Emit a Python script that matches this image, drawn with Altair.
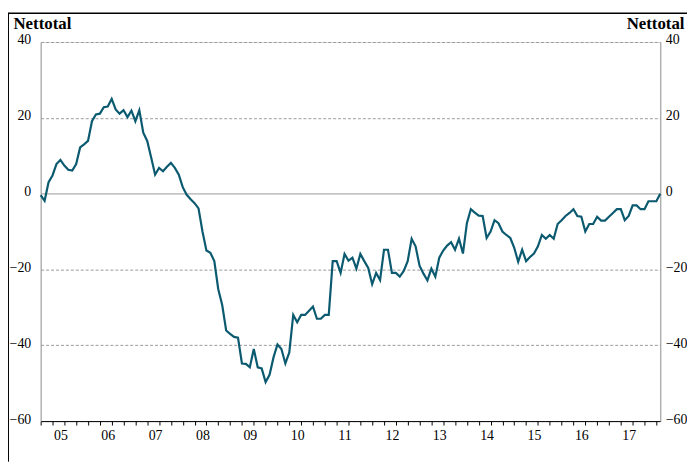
import altair as alt
import pandas as pd

# Monthly net balance, Jan 2005 onwards
values = [
    -0.4, -1.9, 3.0, 4.8, 7.8, 8.9, 7.4, 6.3, 6.1, 7.8, 12.2, 13.0,
    13.9, 19.1, 20.9, 21.1, 22.8, 23.0, 25.0, 22.2, 21.1, 22.0, 20.2, 21.9,
    19.1, 22.0, 16.1, 13.9, 9.5, 5.0, 6.8, 5.9, 7.1, 8.1, 6.8, 5.0,
    1.7, -0.3, -1.5, -2.5, -3.9, -10.0, -15.0, -15.6, -17.8, -25.2, -29.4, -36.1,
    -37.0, -37.8, -38.0, -44.8, -44.9, -45.8, -41.0, -45.8, -46.1, -49.7, -47.8, -43.2,
    -39.8, -41.0, -44.8, -41.9, -32.0, -33.9, -32.0, -32.0, -30.9, -29.8, -33.0, -33.0,
    -32.0, -32.0, -17.8, -17.8, -20.9, -15.9, -17.7, -16.9, -19.8, -15.9, -17.8, -19.6,
    -23.9, -20.9, -22.8, -14.8, -14.8, -20.9, -20.9, -21.9, -20.4, -17.8, -11.9, -13.9,
    -19.0, -21.1, -22.9, -19.8, -21.9, -16.9, -15.0, -13.7, -12.8, -14.8, -11.9, -15.8,
    -7.8, -4.1, -5.0, -5.8, -5.9, -11.7, -10.0, -7.0, -7.8, -10.0, -10.9, -11.7,
    -14.3, -18.0, -14.8, -17.8, -16.7, -15.8, -13.9, -10.9, -11.9, -10.9, -11.9, -8.0,
    -7.0, -5.9, -5.1, -4.1, -5.9, -6.1, -10.0, -8.0, -8.0, -6.1, -7.1, -7.1,
    -6.1, -5.1, -4.1, -4.1, -7.0, -5.9, -3.1, -3.1, -4.1, -4.1, -2.0, -2.0,
    -2.0, 0.0,
]
year_labels = ["05", "06", "07", "08", "09", "10", "11", "12", "13", "14", "15", "16", "17"]
y_ticks = [-60, -40, -20, 0, 20, 40]
axis_title = "Nettotal"

df = pd.DataFrame({"m": list(range(len(values))), "v": values})

W, H = 626, 383
PL, PT, PR, PB = 33, 32, 27, 41
FONT = "Liberation Serif"

quarter_ticks = list(range(0, len(values), 3))
label_pos = [5 + 12 * k for k in range(len(year_labels))]
x_vals = sorted(set(quarter_ticks) | set(label_pos))
labels_js = "[" + ",".join("'%s'" % s for s in year_labels) + "]"
is_label = "(datum.value - 5) % 12 === 0"

x_enc = alt.X(
    "m:Q",
    scale=alt.Scale(domain=[0, len(values) - 1], nice=False, zero=False),
    axis=alt.Axis(
        values=x_vals,
        labelExpr=f"{is_label} ? {labels_js}[(datum.value - 5) / 12] : ''",
        labelOverlap=False,
        labelBound=False,
        labelFont=FONT,
        labelFontSize=14,
        labelColor="black",
        labelPadding=4,
        tickSize=4,
        tickColor="black",
        tickOpacity={"condition": {"test": is_label, "value": 0}, "value": 1},
        domainColor="black",
        grid=False,
        title=None,
    ),
)

y_scale = alt.Scale(domain=[-60, 40], nice=False, zero=False)

grid_dash = {"condition": {"test": "datum.value === 0", "value": []}, "value": [3, 2]}

line = alt.Chart(df).mark_line(color="#0B5A70", strokeWidth=2.2).encode(
    x=x_enc,
    y=alt.Y(
        "v:Q",
        scale=y_scale,
        axis=alt.Axis(
            orient="left",
            values=y_ticks,
            grid=True,
            gridColor="#9a9a9a",
            gridDash=grid_dash,
            gridWidth=1,
            ticks=False,
            domainColor="#9a9a9a",
            labelFont=FONT,
            labelFontSize=14,
            labelColor="black",
            labelPadding=10,
            labelOffset=-2,
            title=axis_title,
            titleAngle=0,
            titleAlign="left",
            titleBaseline="alphabetic",
            titleX=-28,
            titleY=-14,
            titleFont=FONT,
            titleFontSize=17,
            titleFontWeight="bold",
            titleColor="black",
        ),
    ),
)

right = alt.Chart(df).mark_line(opacity=0).encode(
    x=x_enc,
    y=alt.Y(
        "v:Q",
        scale=y_scale,
        axis=alt.Axis(
            orient="right",
            values=y_ticks,
            grid=False,
            ticks=False,
            domainColor="#9a9a9a",
            labelFont=FONT,
            labelFontSize=14,
            labelColor="black",
            labelPadding=5,
            labelOffset=-2,
            title=axis_title,
            titleAngle=0,
            titleAlign="right",
            titleBaseline="alphabetic",
            titleX=24,
            titleY=-14,
            titleFont=FONT,
            titleFontSize=17,
            titleFontWeight="bold",
            titleColor="black",
        ),
    ),
)

frame_data = alt.Data(values=[{}])
frame_left = alt.Chart(frame_data).mark_rule(color="black", strokeWidth=1, clip=False).encode(
    x=alt.value(-32.5), y=alt.value(-29), y2=alt.value(H + PB)
)
frame_top = alt.Chart(frame_data).mark_rule(color="black", strokeWidth=1.5, clip=False).encode(
    x=alt.value(-33), x2=alt.value(W + PR), y=alt.value(-29)
)

chart = (
    alt.layer(line, right, frame_left, frame_top)
    .resolve_scale(y="shared")
    .resolve_axis(y="independent")
    .properties(
        width=W,
        height=H,
        autosize=alt.AutoSizeParams(type="none"),
        padding={"left": PL, "top": PT, "right": PR, "bottom": PB},
    )
    .configure_view(stroke="transparent")
    .configure(background="white")
)

chart.save("out.html", embed_options={"renderer": "svg", "actions": False})
